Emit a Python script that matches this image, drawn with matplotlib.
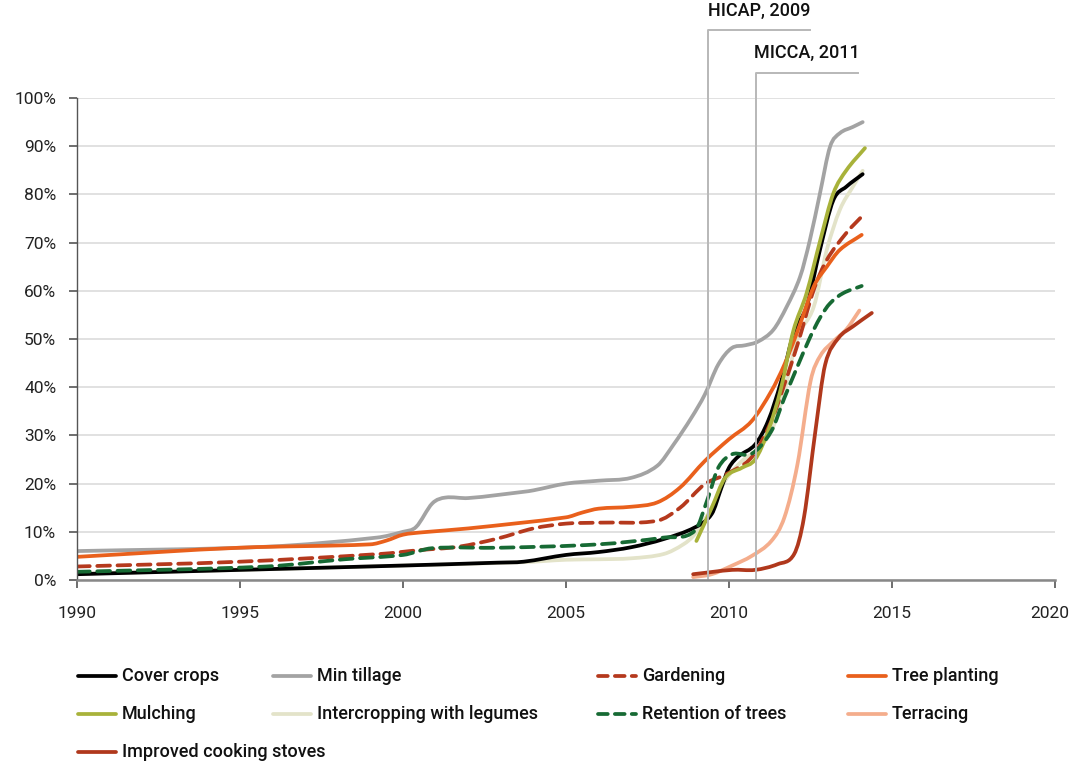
import matplotlib
matplotlib.use("Agg")
import matplotlib.pyplot as plt
import matplotlib.transforms as mtransforms
from matplotlib.lines import Line2D
from matplotlib.path import Path
from matplotlib.patches import PathPatch
import numpy as np

plt.rcParams['font.family'] = ['Roboto', 'DejaVu Sans']

# values (year, % of households)
cover_x = [1990, 1995, 2000, 2002.9, 2003.7, 2005, 2006, 2007, 2008, 2008.95, 2009.47, 2009.77,
           2010, 2010.3, 2010.8, 2011.2, 2011.6, 2012.0, 2012.38, 2012.79, 2013.2, 2013.6, 2014.1]
cover_y = [1.2, 2.1, 3.0, 3.6, 3.8, 5.2, 5.8, 6.8, 8.5, 10.9, 13.7, 19.2,
           23.3, 25.7, 28.1, 33.0, 41.2, 51.6, 56.7, 68.5, 78.8, 81.6, 84.2]

tillage_x = [1990, 1995.8, 1999.2, 2000, 2000.4, 2000.9, 2001.3, 2002, 2003.7, 2004, 2005, 2006,
             2007, 2007.8, 2008.3, 2008.85, 2009.26, 2009.67, 2010.08, 2010.5, 2010.9, 2011.36,
             2011.77, 2012.18, 2012.48, 2012.79, 2013.1, 2013.4, 2013.8, 2014.1]
tillage_y = [6.0, 6.9, 8.8, 10.0, 11.0, 15.9, 17.1, 17.0, 18.3, 18.6, 20.0, 20.6,
             21.2, 23.7, 28.1, 33.7, 38.5, 44.7, 48.1, 48.7, 49.5, 51.9,
             56.7, 62.9, 70.5, 80.2, 89.9, 92.7, 94.0, 95.0]

garden_x = [1990, 1995, 1999.3, 2000.5, 2001.7, 2002.9, 2004, 2005, 2006, 2007.8, 2008.5, 2009.26,
            2009.9, 2010.7, 2011.3, 2011.7, 2012.1, 2012.6, 2013.0, 2013.6, 2014.07]
garden_y = [2.8, 3.8, 5.4, 6.2, 6.9, 8.6, 10.7, 11.7, 11.9, 12.3, 15.0, 19.9,
            21.9, 25.5, 33.0, 40.6, 48.8, 60.2, 66.4, 72.0, 75.4]

trees_x = [1990, 1995, 1999.0, 1999.5, 2000.0, 2000.6, 2002, 2005, 2005.5, 2006, 2007, 2007.8,
           2008.5, 2009.26, 2010, 2010.7, 2011.3, 2011.7, 2012.1, 2012.6, 2013.0, 2013.4, 2014.07]
trees_y = [4.8, 6.7, 7.4, 8.2, 9.4, 9.9, 10.7, 13.0, 14.0, 14.8, 15.2, 16.1,
           19.2, 24.7, 29.2, 33.0, 39.2, 44.7, 51.6, 60.9, 65.0, 68.5, 71.6]

mulch_x = [2009.0, 2009.47, 2009.88, 2010.4, 2010.8, 2011.2, 2011.6, 2011.97, 2012.38, 2012.8,
           2013.2, 2013.6, 2014.17]
mulch_y = [8.1, 15.0, 21.2, 23.3, 25.0, 30.9, 39.9, 51.6, 59.5, 70.5, 80.2, 85.0, 89.6]

inter_x = [1990, 1995, 2000, 2003.7, 2005, 2006, 2007, 2008, 2008.6, 2008.95, 2009.47, 2009.88,
           2010.4, 2010.8, 2011.3, 2011.7, 2012.1, 2012.6, 2013.0, 2013.4, 2013.8, 2014.1]
inter_y = [1.3, 2.1, 3.0, 3.7, 4.2, 4.3, 4.5, 5.4, 7.4, 9.5, 15.0, 20.6,
           24.7, 26.8, 30.9, 39.2, 50.2, 56.7, 68.5, 76.8, 81.6, 84.9]

retain_x = [1990, 1995.8, 1998.2, 2000, 2000.9, 2003, 2006, 2008, 2008.95, 2009.36, 2009.67,
            2010.1, 2010.7, 2011.3, 2011.7, 2012.45, 2012.8, 2013.1, 2013.5, 2014.07]
retain_y = [1.7, 2.8, 4.3, 5.2, 6.6, 6.7, 7.4, 8.8, 10.2, 17.1, 23.3,
            26.1, 26.2, 30.9, 37.8, 49.8, 54.5, 57.4, 59.5, 61.0]

terrace_x = [2008.9, 2009.47, 2010.1, 2010.7, 2011.3, 2011.7, 2012.1, 2012.5, 2012.8, 2013.2,
             2013.6, 2014.0]
terrace_y = [0.6, 1.2, 3.0, 5.0, 8.1, 13.0, 24.0, 41.2, 46.5, 49.5, 52.0, 55.9]

stoves_x = [2008.9, 2010.1, 2010.8, 2011.5, 2012.0, 2012.3, 2012.65, 2012.95, 2013.36, 2013.8, 2014.38]
stoves_y = [1.2, 2.1, 2.1, 3.3, 5.4, 13.0, 30.9, 44.7, 50.2, 52.6, 55.4]

series = [
    ("Cover crops", cover_x, cover_y, "#000000", False),
    ("Min tillage", tillage_x, tillage_y, "#a3a3a3", False),
    ("Gardening", garden_x, garden_y, "#b5391d", True),
    ("Tree planting", trees_x, trees_y, "#e9601c", False),
    ("Mulching", mulch_x, mulch_y, "#a8b23a", False),
    ("Intercropping with legumes", inter_x, inter_y, "#e3e3c9", False),
    ("Retention of trees", retain_x, retain_y, "#176a34", True),
    ("Terracing", terrace_x, terrace_y, "#f4ad8c", False),
    ("Improved cooking stoves", stoves_x, stoves_y, "#b0381c", False),
]
draw_order = [5, 0, 1, 2, 3, 4, 6, 7, 8]


def smooth_path(xs, ys):
    # smoothed line drawn as cubic Bezier pieces through every point (x stays monotone)
    x = np.asarray(xs, float)
    y = np.asarray(ys, float)
    n = len(x)
    m = np.empty(n)
    m[0] = (y[1] - y[0]) / (x[1] - x[0])
    m[-1] = (y[-1] - y[-2]) / (x[-1] - x[-2])
    m[1:-1] = (y[2:] - y[:-2]) / (x[2:] - x[:-2])
    verts = [(x[0], y[0])]
    codes = [Path.MOVETO]
    for i in range(n - 1):
        h = (x[i + 1] - x[i]) / 3
        verts += [(x[i] + h, y[i] + h * m[i]), (x[i + 1] - h, y[i + 1] - h * m[i + 1]),
                  (x[i + 1], y[i + 1])]
        codes += [Path.CURVE4] * 3
    return Path(np.array(verts), codes)


fig = plt.figure(figsize=(10.72, 7.65), dpi=100)
ax = fig.add_axes([77/1072, 185/765, 978/1072, 482/765])

LW = 2.7
DASH = (3.4, 2.0)
for i in draw_order:
    name, xs, ys, col, dashed = series[i]
    patch = PathPatch(smooth_path(xs, np.array(ys) / 100), fill=False, edgecolor=col, lw=LW,
                      capstyle='round', joinstyle='round',
                      linestyle=(0, DASH) if dashed else '-')
    ax.add_patch(patch)

ax.set_xlim(1990, 2020)
ax.set_ylim(0, 1)
ax.set_xticks(range(1990, 2021, 5))
ax.set_yticks(np.arange(0, 1.01, 0.1))
ax.set_yticklabels([f"{int(round(v*100))}%" for v in np.arange(0, 1.01, 0.1)])
ax.tick_params(axis='both', labelsize=12.5, colors='#222222', length=6, width=1.2, direction='out')
ax.tick_params(axis='x', pad=13, color='#555555')
ax.tick_params(axis='y', pad=9, color='#555555')
# keep the last year label inside the canvas
last = ax.get_xticklabels()[-1]
last.set_transform(last.get_transform() +
                   mtransforms.ScaledTranslation(-5 / 100, 0, fig.dpi_scale_trans))
ax.grid(axis='y', color='#dcdcdc', lw=1.2)
ax.set_axisbelow(True)
for s in ['top', 'right']:
    ax.spines[s].set_visible(False)
ax.spines['left'].set_color('#555555')
ax.spines['bottom'].set_color('#888888')
ax.spines['bottom'].set_linewidth(1.8)
ax.spines['left'].set_linewidth(1.0)

# project markers
projects = [("HICAP, 2009", 2009.36, 1.141), ("MICCA, 2011", 2010.83, 1.052)]
for label, px, top in projects:
    ax.plot([px, px, px + 3.12], [0, top, top], color='#b8b8b8', lw=1.4, clip_on=False, zorder=1)
    ax.text(px + 1.56, top + 0.022, label, ha='center', va='bottom', fontsize=13,
            fontweight='medium', color='#111111', clip_on=False)

# legend laid out like the source
col_x = [78, 273, 598, 848]
row_y = [676, 714, 752]
slots = [(0, 0), (1, 0), (2, 0), (3, 0), (0, 1), (1, 1), (2, 1), (3, 1), (0, 2)]
for (c, r), (name, xs, ys, col, dashed) in zip(slots, series):
    x0 = col_x[c] / 1072
    x1 = (col_x[c] + 38) / 1072
    y = 1 - row_y[r] / 765
    ln = Line2D([x0, x1], [y, y], transform=fig.transFigure, color=col, lw=LW,
                solid_capstyle='round')
    if dashed:
        ln.set_linestyle((0, (2.6, 1.9)))
        ln.set_dash_capstyle('round')
    fig.add_artist(ln)
    fig.text((col_x[c] + 44) / 1072, y, name, ha='left', va='center', fontsize=13,
             fontweight='medium', color='#111111')

fig.savefig("out.png", dpi=100)
